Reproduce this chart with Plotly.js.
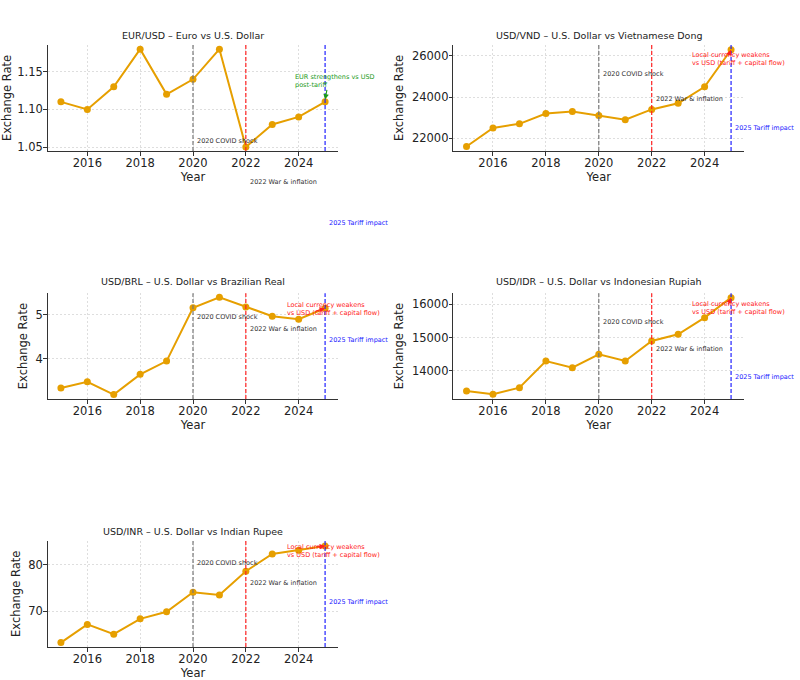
<!DOCTYPE html>
<html>
<head>
<meta charset="utf-8">
<script src="https://cdn.plot.ly/plotly-3.0.1.min.js"></script>
<style>
  html, body { margin: 0; padding: 0; background: #fff; }
  #chart { width: 800px; height: 680px; }
</style>
</head>
<body>
<div id="chart"></div>
<script>
// ---- Data ----
const years = [2015, 2016, 2017, 2018, 2019, 2020, 2021, 2022, 2023, 2024, 2025];
const eurUsd = [1.11, 1.10, 1.13, 1.18, 1.12, 1.14, 1.18, 1.05, 1.08, 1.09, 1.11];
const usdVnd = [21600, 22500, 22700, 23200, 23300, 23100, 22900, 23400, 23700, 24500, 26300];
const usdBrl = [3.34, 3.48, 3.19, 3.65, 3.95, 5.16, 5.40, 5.18, 4.97, 4.90, 5.15];
const usdIdr = [13400, 13300, 13500, 14300, 14100, 14500, 14300, 14900, 15100, 15600, 16200];
const usdInr = [63.3, 67.2, 65.1, 68.4, 69.9, 74.1, 73.5, 78.6, 82.3, 83.1, 84.0];

const titles = [
  "EUR/USD – Euro vs U.S. Dollar",
  "USD/VND – U.S. Dollar vs Vietnamese Dong",
  "USD/BRL – U.S. Dollar vs Brazilian Real",
  "USD/IDR – U.S. Dollar vs Indonesian Rupiah",
  "USD/INR – U.S. Dollar vs Indian Rupee"
];
const xTicks = [2016, 2018, 2020, 2022, 2024];
const yTicks = [
  [1.05, 1.10, 1.15],
  [22000, 24000, 26000],
  [4, 5],
  [14000, 15000, 16000],
  [70, 80]
];
const eventYears = [2020, 2022, 2025];
const eventLabels = ["2020 COVID shock", "2022 War & inflation", "2025 Tariff impact"];
const series = [eurUsd, usdVnd, usdBrl, usdIdr, usdInr];

// ---- Layout geometry ----
const W = 800, H = 680;
const colX = [[47.7, 338.3], [453.3, 744.3]];
const rowY = [[45, 151], [293.3, 399], [540.7, 647]];
const cells = [[0,0],[1,0],[0,1],[1,1],[0,2]];
const xRange = [2014.5, 2025.5];
const yRanges = [[1.0447, 1.1856], [21380, 26530], [3.09, 5.49], [13160, 16330], [62.36, 85.14]];
const titleY = [35, 35, 281.5, 281.5, 531.5];

const FONT = "DejaVu Sans, Liberation Sans, sans-serif";
const ORANGE = "#E69F00";

const traces = [];
const layout = {
  width: W, height: H,
  margin: {l: 0, r: 0, t: 0, b: 0},
  paper_bgcolor: "#fff", plot_bgcolor: "#fff",
  showlegend: false,
  font: {family: FONT, color: "#222"},
  shapes: [], annotations: []
};

// per-subplot event text positions (data coords) and callout
const eventTextY = [
  [1.0585, 1.0033, 0.9496],
  [25100, 23900, 22490],
  [4.95, 4.69, 4.43],
  [15460, 14650, 13830],
  [80.3, 76.1, 72.0]
];
const callouts = [
  {text: "EUR strengthens vs USD<br>post-tariff", color: "#1a9a1a", x: 2023.79, y: 1.138, ax: 2025.08, ay: 1.128, hx: 2025.0, hy: 1.113},
  {text: "Local currency weakens<br>vs USD (tariff + capital flow)", color: "#ff2020", x: 2023.46, y: 25840, ax: 2024.88, ay: 25950, hx: 2025.0, hy: 26300},
  {text: "Local currency weakens<br>vs USD (tariff + capital flow)", color: "#ff2020", x: 2023.5, y: 5.14, ax: 2024.6, ay: 5.08, hx: 2025.0, hy: 5.15},
  {text: "Local currency weakens<br>vs USD (tariff + capital flow)", color: "#ff2020", x: 2023.46, y: 15892, ax: 2024.88, ay: 15950, hx: 2025.0, hy: 16200},
  {text: "Local currency weakens<br>vs USD (tariff + capital flow)", color: "#ff2020", x: 2023.5, y: 82.93, ax: 2024.6, ay: 83.75, hx: 2025.0, hy: 84.0}
];
const eventColors = ["#777777", "#ff2020", "#2020ff"];
const eventTextColors = ["#333333", "#333333", "#2020ff"];

series.forEach((vals, i) => {
  const n = i === 0 ? "" : String(i + 1);
  const xa = "x" + n, ya = "y" + n;
  const [c, r] = cells[i];
  const xDom = [colX[c][0] / W, colX[c][1] / W];
  const yDom = [1 - rowY[r][1] / H, 1 - rowY[r][0] / H];
  // data -> paper helpers (for labels lying outside the axis range)
  const px = v => xDom[0] + (v - xRange[0]) / (xRange[1] - xRange[0]) * (xDom[1] - xDom[0]);
  const py = v => yDom[0] + (v - yRanges[i][0]) / (yRanges[i][1] - yRanges[i][0]) * (yDom[1] - yDom[0]);

  traces.push({
    type: "scatter", mode: "lines+markers",
    x: years, y: vals, xaxis: xa, yaxis: ya,
    line: {color: ORANGE, width: 2},
    marker: {color: ORANGE, size: 7},
    cliponaxis: false
  });
  const axCommon = {
    showline: true, linecolor: "#333", linewidth: 1,
    ticks: "outside", ticklen: 3.5, tickcolor: "#333", tickwidth: 1,
    ticklabelstandoff: -2,
    tickfont: {size: 11.5, color: "#222", family: FONT},
    showgrid: true, gridcolor: "#dedede", griddash: "2px,2px", gridwidth: 1,
    zeroline: false, automargin: false, fixedrange: true
  };
  layout["xaxis" + n] = Object.assign({}, axCommon, {
    domain: xDom, anchor: ya, range: xRange,
    tickvals: xTicks, ticktext: xTicks.map(String),
    title: {text: "Year", font: {size: 11.5, color: "#222", family: FONT}, standoff: 2}
  });
  layout["yaxis" + n] = Object.assign({}, axCommon, {
    domain: yDom, anchor: xa, range: yRanges[i],
    tickvals: yTicks[i],
    ticktext: yTicks[i].map(v => i === 0 ? v.toFixed(2) : String(v)),
    title: {text: "Exchange Rate", font: {size: 11.5, color: "#222", family: FONT}, standoff: 5}
  });
  // subplot title
  layout.annotations.push({
    xref: "paper", yref: "paper",
    x: (colX[c][0] + colX[c][1]) / 2 / W, y: 1 - titleY[i] / H,
    xanchor: "center", yanchor: "middle", showarrow: false,
    text: titles[i], font: {size: 9.5, color: "#222", family: FONT}
  });
  // event lines and labels
  eventYears.forEach((ey, k) => {
    layout.shapes.push({
      type: "line", xref: xa, yref: ya + " domain",
      x0: ey, x1: ey, y0: 0, y1: 1,
      line: {color: eventColors[k], width: 1.2, dash: "4px,2px"}
    });
    layout.annotations.push({
      xref: "paper", yref: "paper", x: px(ey + 0.08), y: py(eventTextY[i][k]),
      xanchor: "left", yanchor: "middle", showarrow: false,
      text: eventLabels[k], font: {size: 6.5, color: eventTextColors[k], family: FONT}
    });
  });
  // callout
  const co = callouts[i];
  layout.annotations.push({
    xref: "paper", yref: "paper", x: px(co.x), y: py(co.y),
    xanchor: "left", yanchor: "middle", align: "left", showarrow: false,
    text: co.text, font: {size: 6.5, color: co.color, family: FONT}
  });
  layout.annotations.push({
    xref: xa, yref: ya, axref: xa, ayref: ya,
    x: co.hx, y: co.hy, ax: co.ax, ay: co.ay,
    text: "", showarrow: true, arrowhead: 2, arrowsize: 1, arrowwidth: 1.1,
    arrowcolor: co.color
  });
});

Plotly.newPlot("chart", traces, layout, {displayModeBar: false, staticPlot: true});
</script>
</body>
</html>
